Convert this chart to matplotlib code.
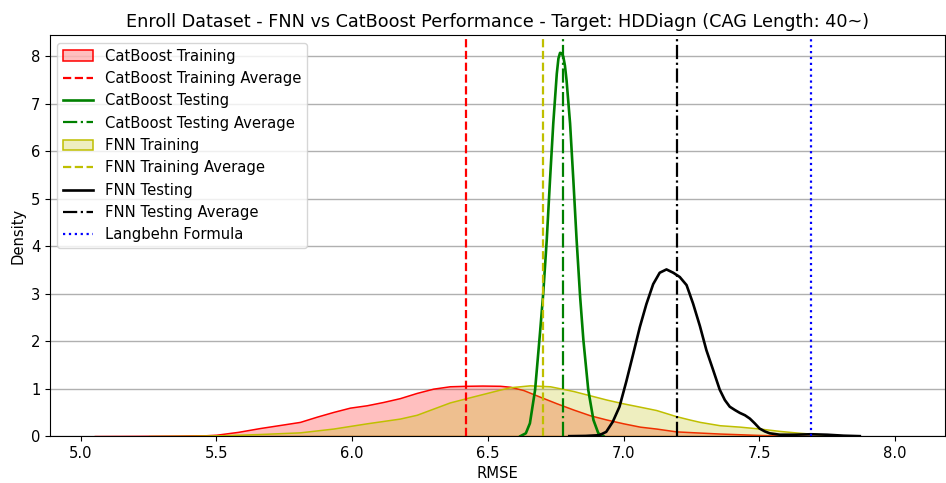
import numpy as np
import matplotlib.pyplot as plt

plt.rcParams['font.size'] = 10.6

# RMSE / density values
cb_train_x = [5.05, 5.2, 5.35, 5.45, 5.5, 5.58, 5.66, 5.74, 5.808, 5.87, 5.931, 5.992, 6.054, 6.115,
              6.176, 6.238, 6.299, 6.36, 6.421, 6.48, 6.545, 6.582, 6.631, 6.692, 6.754, 6.815,
              6.876, 6.937, 6.999, 7.06, 7.12, 7.194, 7.281, 7.354, 7.428, 7.501, 7.575, 7.65, 7.72]
cb_train_y = [0.0, 0.003, 0.008, 0.015, 0.03, 0.09, 0.17, 0.24, 0.30, 0.41, 0.51, 0.60, 0.65, 0.72,
              0.80, 0.91, 1.00, 1.05, 1.06, 1.065, 1.06, 1.04, 0.97, 0.83, 0.69, 0.56,
              0.44, 0.35, 0.27, 0.20, 0.16, 0.10, 0.075, 0.055, 0.04, 0.025, 0.015, 0.005, 0.0]

fnn_train_x = [5.25, 5.4, 5.5, 5.66, 5.808, 5.931, 6.054, 6.176, 6.238, 6.299, 6.36, 6.421, 6.483,
               6.545, 6.582, 6.655, 6.729, 6.815, 6.876, 6.937, 6.999, 7.06, 7.12, 7.194, 7.243,
               7.281, 7.354, 7.428, 7.501, 7.575, 7.65, 7.723, 7.797, 7.87]
fnn_train_y = [0.0, 0.005, 0.015, 0.045, 0.08, 0.16, 0.27, 0.37, 0.45, 0.58, 0.71, 0.80, 0.89,
               0.98, 1.03, 1.07, 1.05, 0.95, 0.86, 0.77, 0.69, 0.62, 0.55, 0.42, 0.35,
               0.30, 0.23, 0.20, 0.16, 0.11, 0.07, 0.04, 0.02, 0.0]

cb_test_x = [6.62, 6.64, 6.655, 6.674, 6.692, 6.704, 6.717, 6.729, 6.741, 6.754, 6.76, 6.766, 6.772,
             6.778, 6.784, 6.79, 6.803, 6.815, 6.827, 6.84, 6.852, 6.87, 6.889, 6.907, 6.926]
cb_test_y = [0.0, 0.06, 0.27, 0.97, 2.16, 3.0, 4.13, 5.39, 6.58, 7.63, 7.95, 8.07, 8.06,
             7.99, 7.8, 7.49, 6.58, 5.39, 4.13, 2.93, 2.02, 0.97, 0.34, 0.06, 0.0]

fnn_test_x = [6.80, 6.86, 6.911, 6.936, 6.96, 6.985, 7.01, 7.035, 7.06, 7.084, 7.109, 7.133, 7.158,
              7.183, 7.207, 7.232, 7.256, 7.281, 7.305, 7.33, 7.354, 7.373, 7.391, 7.41, 7.428,
              7.447, 7.465, 7.483, 7.501, 7.52, 7.538, 7.575, 7.63, 7.69, 7.75, 7.81, 7.87]
fnn_test_y = [0.0, 0.005, 0.02, 0.09, 0.3, 0.62, 1.15, 1.72, 2.3, 2.78, 3.2, 3.44, 3.51,
              3.44, 3.35, 3.18, 2.79, 2.32, 1.81, 1.39, 0.98, 0.76, 0.62, 0.55, 0.49,
              0.44, 0.37, 0.27, 0.16, 0.1, 0.06, 0.03, 0.03, 0.04, 0.03, 0.01, 0.0]

cb_train_avg = 6.42
cb_test_avg = 6.777
fnn_train_avg = 6.703
fnn_test_avg = 7.196
langbehn = 7.69

fig = plt.figure(figsize=(9.46, 4.83), dpi=100)
ax = fig.add_subplot(1, 1, 1)
fig.subplots_adjust(left=0.053, right=0.999, bottom=0.097, top=0.927)

ax.fill_between(cb_train_x, cb_train_y, facecolor=(1, 0, 0, 0.25), edgecolor='r', linewidth=1.1,
                label='CatBoost Training')
ax.axvline(cb_train_avg, color='r', linestyle='--', linewidth=1.6, label='CatBoost Training Average')
ax.plot(cb_test_x, cb_test_y, color='g', linewidth=1.9, label='CatBoost Testing')
ax.axvline(cb_test_avg, color='g', linestyle='-.', linewidth=1.6, label='CatBoost Testing Average')
ax.fill_between(fnn_train_x, fnn_train_y, facecolor=(0.75, 0.75, 0, 0.25), edgecolor='y', linewidth=1.1,
                label='FNN Training')
ax.axvline(fnn_train_avg, color='y', linestyle='--', linewidth=1.6, label='FNN Training Average')
ax.plot(fnn_test_x, fnn_test_y, color='k', linewidth=1.9, label='FNN Testing')
ax.axvline(fnn_test_avg, color='k', linestyle='-.', linewidth=1.6, label='FNN Testing Average')
ax.axvline(langbehn, color='b', linestyle=':', linewidth=1.6, label='Langbehn Formula')

ax.set_xlim(4.888, 8.184)
ax.set_ylim(0, 8.44)
ax.set_xticks(np.arange(5.0, 8.01, 0.5))
ax.set_axisbelow(True)
ax.grid(axis='y', color='#b0b0b0', linewidth=1)
ax.set_xlabel('RMSE')
ax.set_ylabel('Density')
ax.set_title('Enroll Dataset - FNN vs CatBoost Performance - Target: HDDiagn (CAG Length: 40~)', fontsize=12.7)
ax.legend(loc='upper left')

plt.savefig('out.png', dpi=100)
